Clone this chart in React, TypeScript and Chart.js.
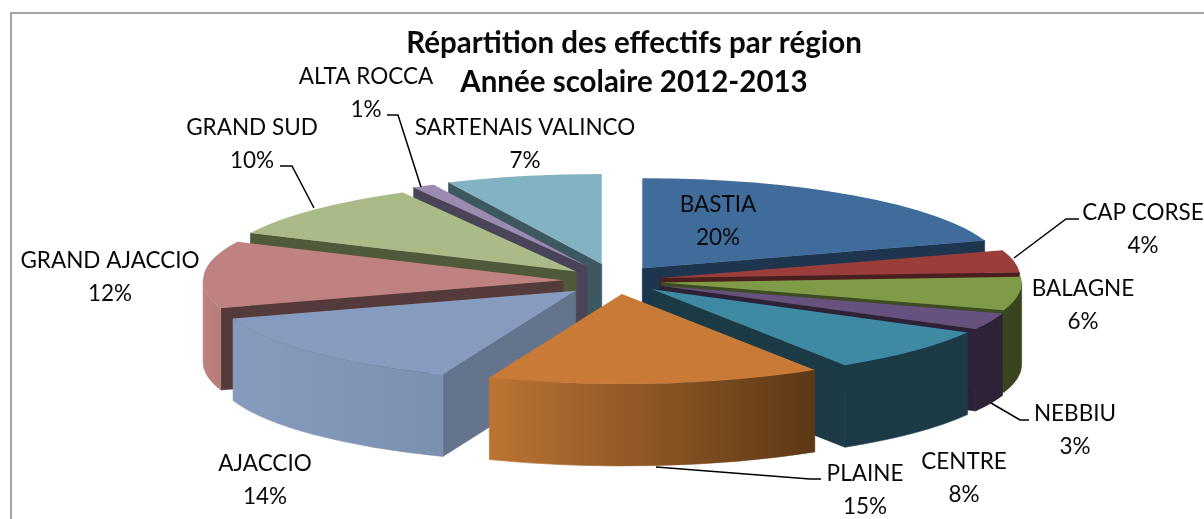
import React, { useEffect, useRef } from "react";
import { Chart, registerables } from "chart.js";

Chart.register(...registerables);

const titleLines = ["Répartition des effectifs par région", "Année scolaire 2012-2013"];
const categories = ["BASTIA", "CAP CORSE", "BALAGNE", "NEBBIU", "CENTRE", "PLAINE", "AJACCIO", "GRAND AJACCIO", "GRAND SUD", "ALTA ROCCA", "SARTENAIS VALINCO"];
const percents = [20, 4, 6, 3, 8, 15, 14, 12, 10, 1, 7];

const topColors = ["#406C9C", "#9A3D3B", "#7F9B48", "#67517F", "#3E8AA3", "#C97A36", "#879BBE", "#C08281", "#ABBB88", "#9B8BB0", "#83B2C3"];
const radialWallColors = ["#1E3550", "#4A1F1E", "#3D4C23", "#2D2238", "#1B3A46", "#5C3A1A", "#64748D", "#543A3B", "#4F5A3A", "#4A4458", "#3D5860"];
const outerWallLeft = ["#34587F", "#7C3130", "#39451F", "#2D2238", "#1B3A46", "#BC7432", "#879BBE", "#BC807E", "#8C9A70", "#7F7290", "#6B92A0"];
const outerWallRight = ["#34587F", "#7C3130", "#39451F", "#2D2238", "#1B3A46", "#5C3816", "#7B8FAF", "#B87C7A", "#8C9A70", "#7F7290", "#6B92A0"];
const explodeDistance = [43, 44, 45, 47, 48, 52, 57, 54, 56, 66, 70];
const perspectiveLift = [-4, -1, 0, 0, 0, 0, 0, 0, 0, 0, 0];

const labelX = [718, 1143, 1083, 1075, 964, 865, 265, 110, 252, 366, 525];
const labelY = [205, 213, 289, 414, 462, 474, 464, 261, 128, 77, 128];
const labelGap = 33;
const leaderLines: number[][][] = [
  [[1014, 258], [1066, 219], [1079, 219]],
  [[991, 403], [1020, 420], [1029, 420]],
  [[656, 467], [810, 479], [821, 479]],
  [[280, 166], [292, 166], [314, 208]],
  [[387, 115], [398, 115], [421, 187]],
];

const CENTER_X = 617;
const CENTER_Y = 281;
const SQUASH = 0.25;
const DEPTH = 82;
const RADIUS = 360;
const FONT = "Lato, 'Open Sans', sans-serif";

const pie3d = {
  id: "pie3d",
  beforeDraw(chart: any) {
    const { ctx, width, height } = chart;
    ctx.save();
    ctx.fillStyle = "#FFFFFF";
    ctx.fillRect(0, 0, width, height);
    ctx.strokeStyle = "#A3A3A3";
    ctx.lineWidth = 2;
    ctx.strokeRect(11, 13, width + 50, height + 50);
    ctx.restore();
  },
  beforeDatasetsDraw(chart: any) {
    const { ctx } = chart;
    const arcs = chart.getDatasetMeta(0).data;
    const mid = (el: any) => (el.startAngle + el.endAngle) / 2;
    const order = arcs.map((_: any, i: number) => i).sort((p: number, q: number) => Math.sin(mid(arcs[p])) - Math.sin(mid(arcs[q])));
    const depth = DEPTH / SQUASH;
    for (const i of order) {
      const el = arcs[i];
      const a = el.startAngle;
      const b = el.endAngle;
      const r = el.outerRadius;
      const m = mid(el);
      ctx.save();
      ctx.translate(CENTER_X, CENTER_Y + perspectiveLift[i]);
      ctx.scale(1, SQUASH);
      ctx.translate(-el.x, -el.y);
      ctx.translate(Math.cos(m) * explodeDistance[i], Math.sin(m) * explodeDistance[i]);
      ctx.lineWidth = 1;
      const radial = (t: number) => {
        ctx.beginPath();
        ctx.moveTo(el.x, el.y);
        ctx.lineTo(el.x + r * Math.cos(t), el.y + r * Math.sin(t));
        ctx.lineTo(el.x + r * Math.cos(t), el.y + r * Math.sin(t) + depth);
        ctx.lineTo(el.x, el.y + depth);
        ctx.closePath();
        ctx.fillStyle = radialWallColors[i];
        ctx.strokeStyle = radialWallColors[i];
        ctx.fill();
        ctx.stroke();
      };
      if (Math.cos(a) < 0) radial(a);
      if (Math.cos(b) > 0) radial(b);
      const s = Math.max(a, 0);
      const e = Math.min(b, Math.PI);
      if (e > s) {
        const x1 = el.x + r * Math.cos(e);
        const x2 = el.x + r * Math.cos(s);
        const g = ctx.createLinearGradient(x1, 0, x2, 0);
        g.addColorStop(0, outerWallLeft[i]);
        g.addColorStop(1, outerWallRight[i]);
        ctx.beginPath();
        ctx.arc(el.x, el.y, r, s, e);
        ctx.arc(el.x, el.y + depth, r, e, s, true);
        ctx.closePath();
        ctx.fillStyle = g;
        ctx.strokeStyle = g;
        ctx.fill();
        ctx.stroke();
      }
      el.draw(ctx);
      ctx.restore();
    }
    return false;
  },
  afterDraw(chart: any) {
    const { ctx } = chart;
    ctx.save();
    ctx.strokeStyle = "#000000";
    ctx.lineWidth = 1.5;
    for (const line of leaderLines) {
      ctx.beginPath();
      line.forEach(([x, y], n) => (n === 0 ? ctx.moveTo(x, y) : ctx.lineTo(x, y)));
      ctx.stroke();
    }
    ctx.fillStyle = "#0A0A0A";
    ctx.font = `22.5px ${FONT}`;
    ctx.textAlign = "center";
    ctx.textBaseline = "middle";
    categories.forEach((name, i) => {
      ctx.fillText(name, labelX[i], labelY[i]);
      ctx.fillText(`${percents[i]}%`, labelX[i], labelY[i] + labelGap);
    });
    ctx.restore();
  },
};

export default function App() {
  const ref = useRef<HTMLCanvasElement>(null);
  useEffect(() => {
    const chart = new Chart(ref.current as HTMLCanvasElement, {
      type: "pie",
      data: {
        labels: categories,
        datasets: [{ data: percents, backgroundColor: topColors, borderWidth: 0, clip: false } as any],
      },
      options: {
        responsive: false,
        animation: false,
        radius: RADIUS,
        layout: { padding: { left: 64, top: 24 } },
        events: [],
        plugins: {
          legend: { display: false },
          tooltip: { enabled: false },
          title: {
            display: true,
            text: titleLines,
            color: "#0A0A0A",
            font: { family: FONT, size: 29.5, weight: "bold", lineHeight: 1.32 },
            padding: 0,
          },
        },
      } as any,
      plugins: [pie3d],
    });
    return () => chart.destroy();
  }, []);
  return (
    <div style={{ position: "fixed", left: 0, top: 0, width: 1204, height: 519 }}>
      <canvas ref={ref} width={1204} height={519} style={{ display: "block" }} />
    </div>
  );
}
